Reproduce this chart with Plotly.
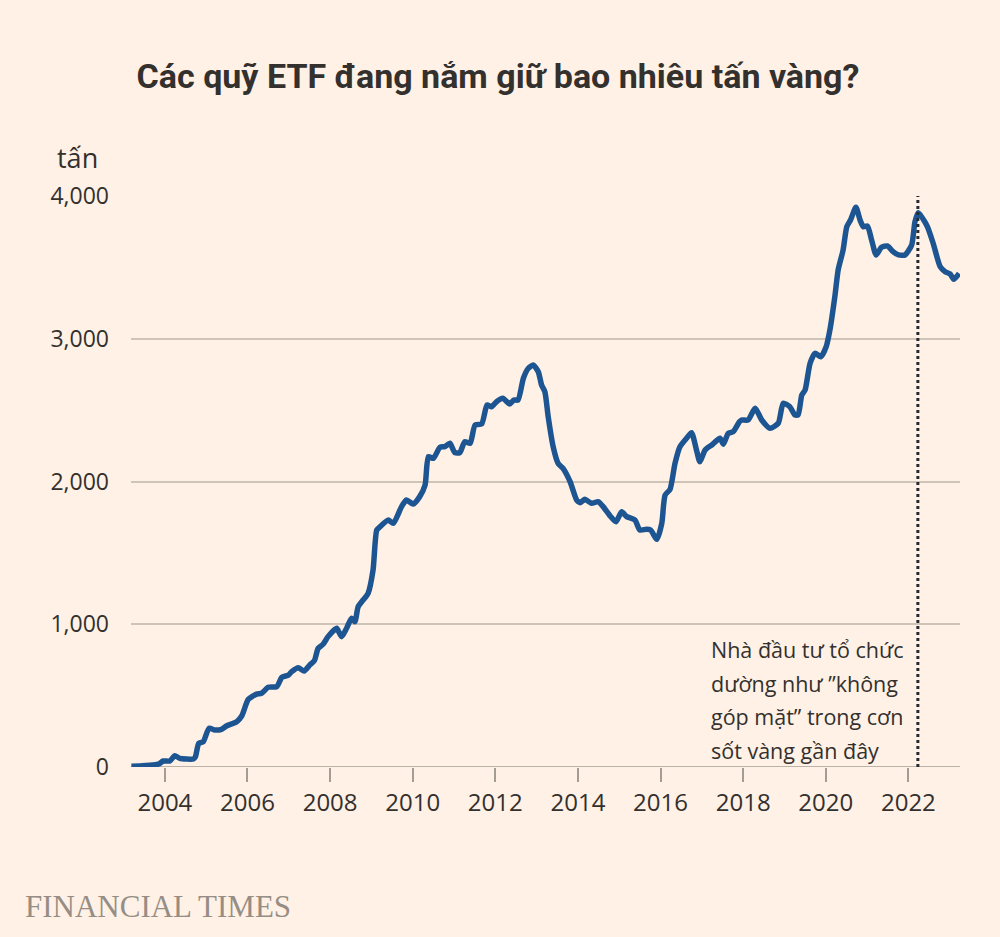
import plotly.graph_objects as go

# ETF gold holdings (tonnes); x in decimal years
years = [
    2003.19, 2003.84, 2003.96, 2004.12, 2004.24, 2004.36, 2004.69, 2004.74, 2004.82, 2004.93,
    2005.07, 2005.21, 2005.37, 2005.49, 2005.74, 2005.86, 2006.02, 2006.22, 2006.34, 2006.50,
    2006.71, 2006.83, 2006.99, 2007.07, 2007.23, 2007.37, 2007.51, 2007.62, 2007.71, 2007.83,
    2007.95, 2008.12, 2008.16, 2008.28, 2008.40, 2008.52, 2008.60, 2008.68, 2008.80, 2008.92,
    2009.04, 2009.13, 2009.21, 2009.41, 2009.53, 2009.73, 2009.85, 2010.01, 2010.17, 2010.30,
    2010.38, 2010.50, 2010.66, 2010.78, 2010.90, 2011.02, 2011.14, 2011.26, 2011.39, 2011.51,
    2011.67, 2011.80, 2011.91, 2012.03, 2012.18, 2012.35, 2012.45, 2012.55, 2012.68, 2012.80,
    2012.92, 2013.04, 2013.12, 2013.20, 2013.28, 2013.40, 2013.52, 2013.64, 2013.81, 2013.97,
    2014.05, 2014.17, 2014.33, 2014.49, 2014.61, 2014.78, 2014.92, 2015.06, 2015.18, 2015.38,
    2015.50, 2015.66, 2015.76, 2015.91, 2016.03, 2016.11, 2016.23, 2016.35, 2016.47, 2016.63,
    2016.75, 2016.87, 2016.95, 2017.08, 2017.24, 2017.44, 2017.52, 2017.64, 2017.76, 2017.91,
    2017.96, 2018.12, 2018.29, 2018.45, 2018.65, 2018.85, 2018.97, 2019.13, 2019.25, 2019.33,
    2019.42, 2019.50, 2019.62, 2019.74, 2019.88, 2020.01, 2020.10, 2020.22, 2020.30, 2020.42,
    2020.51, 2020.60, 2020.73, 2020.83, 2020.91, 2021.01, 2021.11, 2021.22, 2021.35, 2021.49,
    2021.63, 2021.76, 2021.92, 2022.08, 2022.16, 2022.24, 2022.36, 2022.46, 2022.60, 2022.77,
    2022.89, 2023.01, 2023.10, 2023.23,
]
tonnes = [
    5, 20, 42, 42, 79, 61, 56, 72, 166, 177,
    271, 259, 264, 287, 317, 357, 474, 511, 516, 558,
    563, 628, 644, 668, 696, 672, 715, 745, 831, 860,
    913, 965, 972, 913, 972, 1042, 1018, 1123, 1170, 1217,
    1380, 1660, 1683, 1730, 1707, 1824, 1870, 1842, 1894, 1975,
    2174, 2162, 2240, 2244, 2268, 2202, 2202, 2279, 2268, 2396,
    2403, 2536, 2524, 2559, 2583, 2543, 2571, 2571, 2723, 2793,
    2816, 2769, 2676, 2629, 2454, 2244, 2127, 2092, 1999, 1870,
    1852, 1875, 1847, 1859, 1824, 1758, 1718, 1788, 1754, 1730,
    1660, 1665, 1660, 1595, 1707, 1905, 1945, 2127, 2244, 2303,
    2342, 2221, 2139, 2221, 2256, 2303, 2261, 2338, 2349, 2419,
    2431, 2431, 2513, 2431, 2373, 2408, 2548, 2524, 2466, 2466,
    2606, 2641, 2828, 2898, 2874, 2944, 3061, 3295, 3482, 3622,
    3785, 3832, 3921, 3832, 3785, 3790, 3692, 3587, 3641, 3650,
    3610, 3587, 3587, 3657, 3820, 3883, 3837, 3785, 3669, 3505,
    3470, 3454, 3416, 3458,
]

marker_year = 2022.23
y_ticks = [0, 1000, 2000, 3000, 4000]
y_labels = ["0", "1,000", "2,000", "3,000", "4,000"]
x_ticks = list(range(2004, 2023, 2))
note_lines = ["Nhà đầu tư tổ chức", "dường như \u201dkhông", "góp mặt\u201d trong cơn", "sốt vàng gần đây"]
note_y = [820, 588, 352, 119]

bg = "#FFF1E5"
text_col = "#33302E"
grid_col = "#CEC5B8"

fig = go.Figure(
    data=[go.Scatter(x=years, y=tonnes, mode="lines", cliponaxis=False,
                     line=dict(width=5.5, color="#1D5592", shape="spline", smoothing=0.6),
                     hoverinfo="skip")],
)

# vertical dotted marker
fig.add_shape(type="line", x0=marker_year, x1=marker_year, y0=0, y1=4000,
              xref="x", yref="y", line=dict(color="#262A33", width=3, dash="dot"))

for txt, yy in zip(note_lines, note_y):
    fig.add_annotation(x=2017.17, y=yy, xref="x", yref="y", xanchor="left", yanchor="middle",
                       align="left", showarrow=False, text=txt,
                       font=dict(family="Open Sans", size=21.5, color=text_col))

fig.update_layout(
    width=1000, height=937,
    paper_bgcolor=bg, plot_bgcolor=bg,
    margin=dict(l=123, r=48, t=188, b=178),
    showlegend=False,
    title=dict(text="<b>Các quỹ ETF đang nắm giữ bao nhiêu tấn vàng?</b>",
               x=0.49, xanchor="center", y=0.927, yanchor="middle",
               font=dict(family="Roboto", size=34, color=text_col)),
    xaxis=dict(range=[2003.18, 2023.25], tickvals=x_ticks, ticktext=[str(v) for v in x_ticks],
               showgrid=False, zeroline=False, showline=False,
               ticks="outside", ticklen=14, tickwidth=1.5, tickcolor="#A59D93",
               tickfont=dict(family="Open Sans", size=24, color=text_col)),
    yaxis=dict(range=[0, 4000], tickvals=y_ticks, ticktext=y_labels,
               showgrid=True, gridcolor=grid_col, gridwidth=1.5, zeroline=False,
               showline=False, ticks="", ticklabelstandoff=21,
               tickfont=dict(family="Open Sans", size=23, color=text_col)),
)

# baseline of x axis
fig.add_shape(type="line", x0=0, x1=1, xref="paper", y0=0, y1=0, yref="y",
              line=dict(color="#A59D93", width=1.5), layer="below")

fig.add_annotation(x=-0.0917, y=4000, xref="paper", yref="y", yshift=18,
                   xanchor="left", yanchor="bottom", showarrow=False, text="tấn",
                   font=dict(family="Open Sans", size=27, color=text_col))

fig.add_annotation(x=-0.13, y=-0.245, xref="paper", yref="paper",
                   xanchor="left", yanchor="middle", showarrow=False, text="FINANCIAL TIMES",
                   font=dict(family="Liberation Serif", size=31, color="#968E86"))

fig.write_html("out.html", post_script="document.body.style.background='#FFF1E5';")
